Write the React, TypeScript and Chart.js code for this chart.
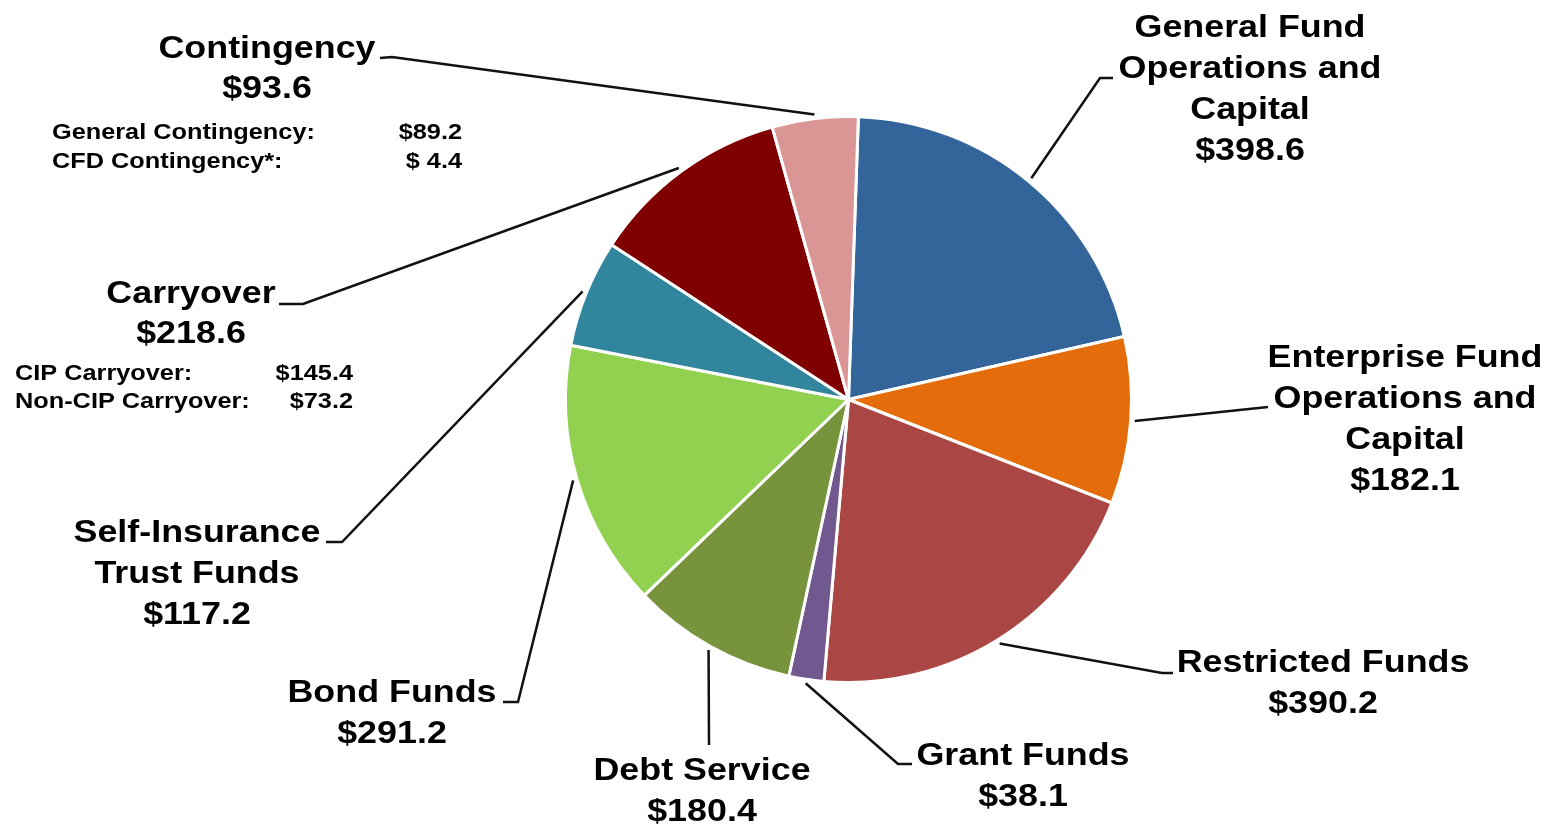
import React, { useEffect, useRef } from 'react';
import { Chart, registerables } from 'chart.js';

Chart.register(...registerables);

const categories = [
  'General Fund Operations and Capital',
  'Enterprise Fund Operations and Capital',
  'Restricted Funds',
  'Grant Funds',
  'Debt Service',
  'Bond Funds',
  'Self-Insurance Trust Funds',
  'Carryover',
  'Contingency',
];
const values = [398.6, 182.1, 390.2, 38.1, 180.4, 291.2, 117.2, 218.6, 93.6];
const colors = ['#33659B', '#E46C0A', '#AA4643', '#71588F', '#77933C', '#92D050', '#31859C', '#800000', '#D99694'];
const labelLines = [
  ['General Fund', 'Operations and', 'Capital'],
  ['Enterprise Fund', 'Operations and', 'Capital'],
  ['Restricted Funds'],
  ['Grant Funds'],
  ['Debt Service'],
  ['Bond Funds'],
  ['Self-Insurance', 'Trust Funds'],
  ['Carryover'],
  ['Contingency'],
];
const contingencyLabels = ['General Contingency:', 'CFD Contingency*:'];
const contingencyValues = [89.2, 4.4];
const carryoverLabels = ['CIP Carryover:', 'Non-CIP Carryover:'];
const carryoverValues = [145.4, 73.2];

// label placement (layout only)
const labelLayout = [
  { x: 1250, y: 37, elbow: [1100, 78], end: [1113, 78] },
  { x: 1405, y: 367, elbow: [1268, 407], end: [1268, 407] },
  { x: 1323, y: 672, elbow: [1162, 673], end: [1173, 673] },
  { x: 1023, y: 765, elbow: [898, 764], end: [912, 764] },
  { x: 702, y: 780, elbow: [709, 745], end: [709, 745] },
  { x: 392, y: 702, elbow: [518, 702], end: [503, 702] },
  { x: 197, y: 542, elbow: [342, 542], end: [326, 542] },
  { x: 191, y: 303, elbow: [303, 304], end: [279, 304] },
  { x: 267, y: 58, elbow: [392, 57], end: [380, 58] },
];
const subLayout = {
  Contingency: { left: 52, right: 462, y: [139, 168] },
  Carryover: { left: 15, right: 353, y: [380, 408] },
};

const BIG_FONT = 'bold 32px "Liberation Sans", Arial, sans-serif';
const SMALL_FONT = 'bold 22px "Liberation Sans", Arial, sans-serif';
const TEXT_COLOR = '#000000';

const money = (v: number) => (v < 10 ? '$ ' + v.toFixed(1) : '$' + v.toFixed(1));

function drawText(ctx: CanvasRenderingContext2D, text: string, x: number, y: number, align: CanvasTextAlign, sx: number) {
  ctx.save();
  ctx.translate(x, y);
  ctx.scale(sx, 1);
  ctx.textAlign = align;
  ctx.textBaseline = 'alphabetic';
  ctx.fillText(text, 0, 0);
  ctx.restore();
}

const labelPlugin = {
  id: 'pieLabels',
  afterDraw(chart: any) {
    const ctx: CanvasRenderingContext2D = chart.ctx;
    const meta = chart.getDatasetMeta(0);
    ctx.save();
    ctx.fillStyle = TEXT_COLOR;
    ctx.strokeStyle = '#111111';
    ctx.lineWidth = 2.5;
    ctx.lineJoin = 'miter';
    meta.data.forEach((arc: any, i: number) => {
      const p = arc.getProps(['x', 'y', 'startAngle', 'endAngle', 'outerRadius'], true);
      const mid = (p.startAngle + p.endAngle) / 2;
      const r = p.outerRadius + 4;
      const sx = p.x + Math.cos(mid) * r;
      const sy = p.y + Math.sin(mid) * r;
      const lay = labelLayout[i];
      ctx.beginPath();
      ctx.moveTo(sx, sy);
      ctx.lineTo(lay.elbow[0], lay.elbow[1]);
      ctx.lineTo(lay.end[0], lay.end[1]);
      ctx.stroke();

      ctx.font = BIG_FONT;
      const lines = [...labelLines[i], money(values[i])];
      lines.forEach((t, k) => drawText(ctx, t, lay.x, lay.y + k * 41 - (k === lines.length - 1 && lines.length === 2 && i >= 7 ? 1 : 0), 'center', 1.12));
    });

    ctx.font = SMALL_FONT;
    const c = subLayout.Contingency;
    contingencyLabels.forEach((t, k) => {
      drawText(ctx, t, c.left, c.y[k], 'left', 1.15);
      drawText(ctx, money(contingencyValues[k]), c.right, c.y[k], 'right', 1.15);
    });
    const co = subLayout.Carryover;
    carryoverLabels.forEach((t, k) => {
      drawText(ctx, t, co.left, co.y[k], 'left', 1.15);
      drawText(ctx, money(carryoverValues[k]), co.right, co.y[k], 'right', 1.15);
    });
    ctx.restore();
  },
};

export default function App() {
  const ref = useRef<HTMLCanvasElement | null>(null);
  useEffect(() => {
    document.body.style.margin = '0';
    const canvas = ref.current;
    if (!canvas) return;
    const chart = new Chart(canvas, {
      type: 'pie',
      data: {
        labels: categories,
        datasets: [
          {
            data: values,
            backgroundColor: colors,
            borderColor: '#ffffff',
            borderWidth: 3,
          },
        ],
      },
      options: {
        responsive: false,
        animation: false,
        devicePixelRatio: 1,
        rotation: 2,
        layout: { padding: { left: 564, right: 420, top: 115, bottom: 141 } },
        plugins: {
          legend: { display: false },
          tooltip: { enabled: false },
        },
      },
      plugins: [labelPlugin],
    });
    return () => chart.destroy();
  }, []);
  return (
    <div style={{ width: 1553, height: 825, background: '#ffffff' }}>
      <canvas ref={ref} width={1553} height={825} style={{ display: 'block' }} />
    </div>
  );
}
